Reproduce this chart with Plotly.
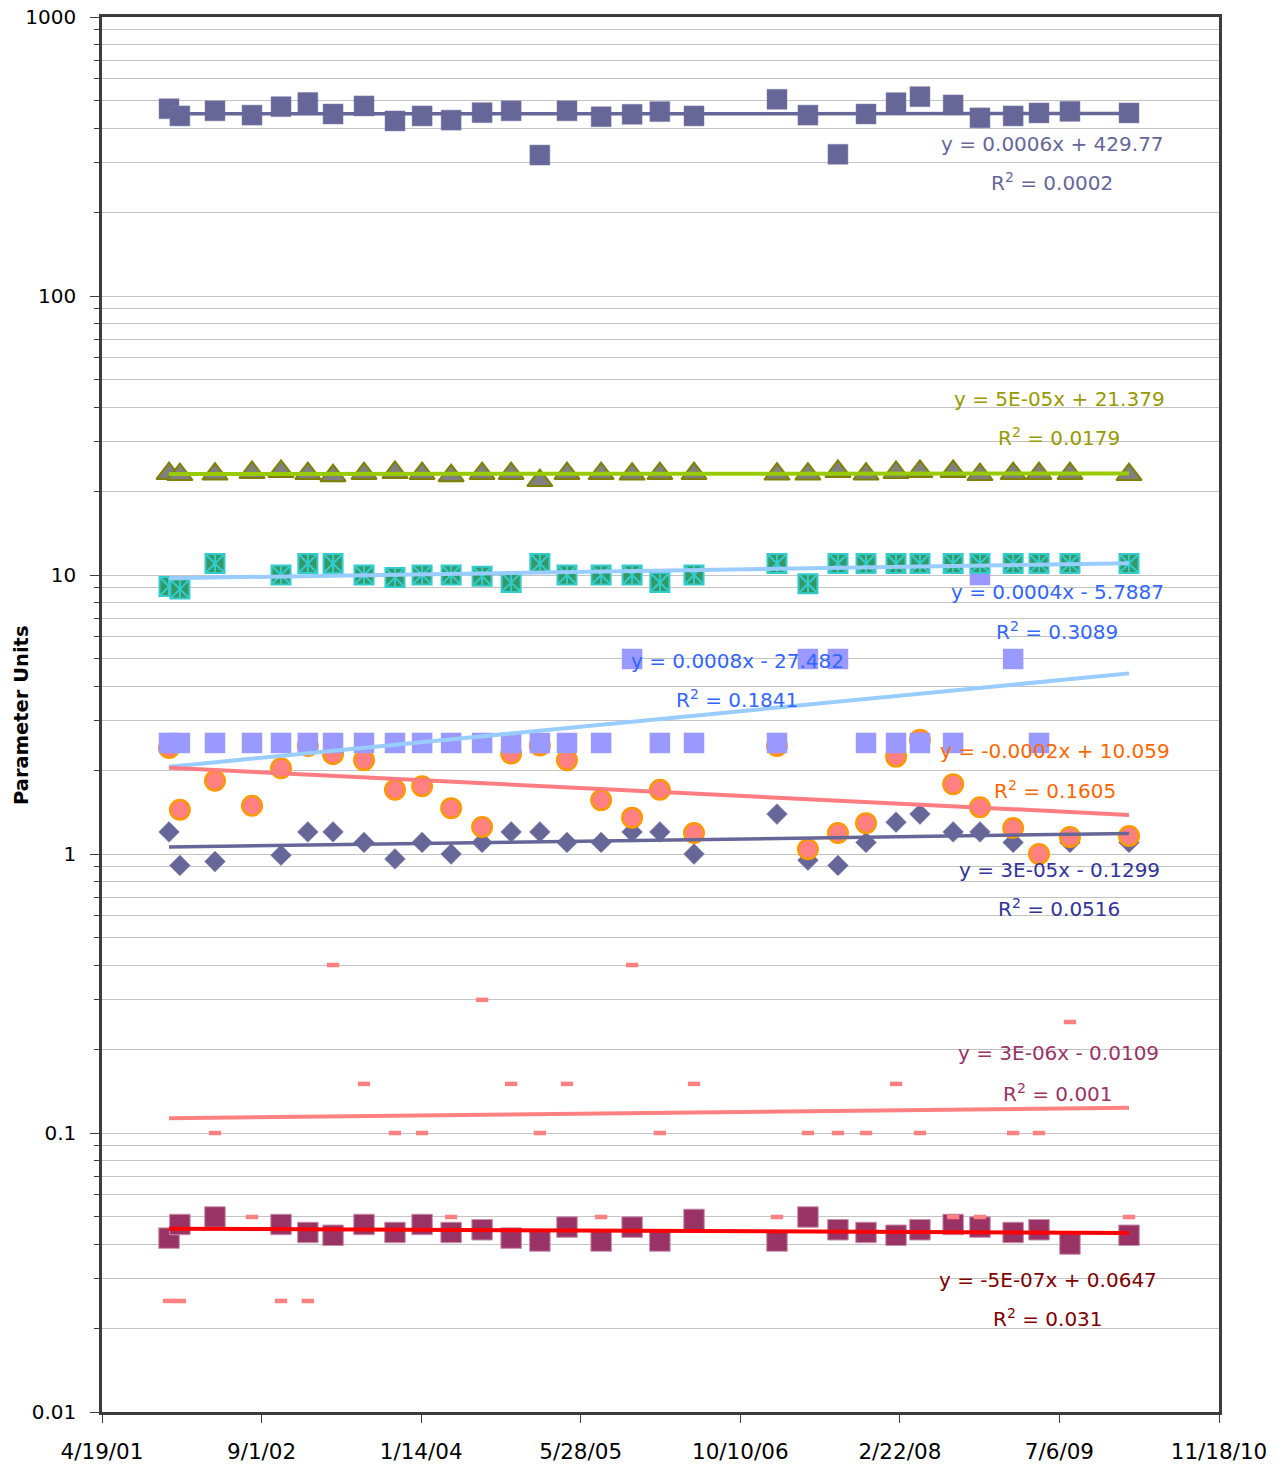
import numpy as np
import pandas as pd
import plotly.graph_objects as go

# ---------------- data (Excel date serials + series values) ----------------
sample_serial = [37210, 37244, 37354, 37470, 37561, 37645, 37724, 37821, 37918, 38003,
                 38094, 38191, 38282, 38372, 38457, 38564, 38661, 38748, 38855, 39115,
                 39212, 39306, 39394, 39488, 39563, 39667, 39751, 39855, 39936, 40033,
                 40218]

series_squares = [469, 442, 461, 445, 477, 494, 449, 480, 424, 442,
                  427, 454, 461, 320, 461, 439, 448, 458, 442, 507,
                  445, 322, 449, 493, 518, 484, 435, 442, 453, 459,
                  453]

series_triangles = [23.1, 22.9, 23.0, 23.3, 23.5, 23.1, 22.7, 23.1, 23.3, 23.1,
                    22.7, 23.1, 23.1, 21.8, 23.1, 23.1, 23.0, 23.1, 23.1, 23.0,
                    23.0, 23.5, 23.0, 23.3, 23.5, 23.5, 22.9, 23.1, 23.1, 23.1,
                    22.9]

series_star = [9.1, 8.9, 11.0, None, 10.0, 11.0, 11.0, 10.0, 9.8, 10.0,
               10.0, 9.9, 9.4, 11.0, 10.0, 10.0, 10.0, 9.4, 10.0, 11.0,
               9.3, 11.0, 11.0, 11.0, 11.0, 11.0, 11.0, 11.0, 11.0, 11.0,
               11.0]

series_lavender = [2.5, 2.5, 2.5, 2.5, 2.5, 2.5, 2.5, 2.5, 2.5, 2.5,
                   2.5, 2.5, 2.5, 2.5, 2.5, 2.5, 5.0, 2.5, 2.5, 2.5,
                   5.0, 5.0, 2.5, 2.5, 2.5, 2.5, 10.0, 5.0, 2.5, None,
                   None]

series_circles = [2.40, 1.44, 1.83, 1.49, 2.03, 2.44, 2.28, 2.17, 1.70, 1.75,
                  1.46, 1.25, 2.29, 2.45, 2.17, 1.56, 1.35, 1.70, 1.19, 2.44,
                  1.04, 1.19, 1.29, 2.23, 2.57, 1.78, 1.47, 1.24, 1.00, 1.15,
                  1.16]

series_diamonds = [1.20, 0.91, 0.94, None, 0.99, 1.20, 1.20, 1.10, 0.96, 1.10,
                   1.00, 1.10, 1.20, 1.20, 1.10, 1.10, 1.20, 1.20, 1.00, 1.39,
                   0.95, 0.91, 1.10, 1.30, 1.39, 1.20, 1.20, 1.10, None, 1.10,
                   1.10]

series_dashes = [0.025, 0.025, 0.10, 0.05, 0.025, 0.025, 0.40, 0.15, 0.10, 0.10,
                 0.05, 0.30, 0.15, 0.10, 0.15, 0.05, 0.40, 0.10, 0.15, 0.05,
                 0.10, 0.10, 0.10, 0.15, 0.10, 0.05, 0.05, 0.10, 0.10, 0.25,
                 0.05]

series_maroon = [0.042, 0.047, 0.050, None, 0.047, 0.044, 0.043, 0.047, 0.044, 0.047,
                 0.044, 0.045, 0.042, 0.041, 0.046, 0.041, 0.046, 0.041, 0.049, 0.041,
                 0.050, 0.045, 0.044, 0.043, 0.045, 0.047, 0.046, 0.044, 0.045, 0.040,
                 0.043]

y_tick_vals = [0.01, 0.1, 1, 10, 100, 1000]
y_tick_text = ["0.01", "0.1", "1", "10", "100", "1000"]

trend_labels = [
    ("y = 0.0006x + 429.77", "R<sup>2</sup> = 0.0002"),
    ("y = 5E-05x + 21.379", "R<sup>2</sup> = 0.0179"),
    ("y = 0.0004x - 5.7887", "R<sup>2</sup> = 0.3089"),
    ("y = 0.0008x - 27.482", "R<sup>2</sup> = 0.1841"),
    ("y = -0.0002x + 10.059", "R<sup>2</sup> = 0.1605"),
    ("y = 3E-05x - 0.1299", "R<sup>2</sup> = 0.0516"),
    ("y = 3E-06x - 0.0109", "R<sup>2</sup> = 0.001"),
    ("y = -5E-07x + 0.0647", "R<sup>2</sup> = 0.031"),
]

# ---------------- figure ----------------
FONT = "'DejaVu Sans', Lato, sans-serif"
serial = np.array(sample_serial, dtype=float)
dates = pd.to_datetime(serial, unit="D", origin="1899-12-30")

fig = go.Figure()


def add_markers(vals, **marker):
    fig.add_trace(go.Scatter(x=dates, y=vals, mode="markers", marker=marker,
                             hoverinfo="x+y"))


def add_trend(vals, color, width=4):
    v = np.array([np.nan if q is None else q for q in vals], dtype=float)
    ok = ~np.isnan(v)
    m, b = np.polyfit(serial[ok], v[ok], 1)
    xs = np.array([serial.min(), serial.max()])
    fig.add_trace(go.Scatter(
        x=pd.to_datetime(xs, unit="D", origin="1899-12-30"), y=m * xs + b,
        mode="lines", line=dict(color=color, width=width), hoverinfo="skip"))


# markers (drawing order matters for overlaps)
add_markers(series_squares, symbol="square", size=20, color="#666699",
            line=dict(color="#8080AA", width=0.5))
add_markers(series_triangles, symbol="triangle-up", size=22, color="#808080",
            line=dict(color="#808000", width=2))
add_markers(series_diamonds, symbol="diamond", size=16, color="#666699",
            line=dict(color="#8080AA", width=0.5))
add_markers(series_circles, symbol="circle", size=19.5, color="#FF8080",
            line=dict(color="#FF9900", width=2.5))
add_markers(series_lavender, symbol="square", size=20.5, color="#9999FF",
            line=dict(width=0))
add_markers(series_star, symbol="square-x", size=19, color="#339966",
            line=dict(color="#33CCCC", width=2))
add_markers(series_star, symbol="line-ns-open", size=14, color="#33CCCC",
            line=dict(color="#33CCCC", width=2))
add_markers(series_maroon, symbol="square", size=20.5, color="#993366",
            line=dict(color="#C890AC", width=1))
add_markers(series_dashes, symbol="line-ew", size=8.8, color="#FF8080",
            line=dict(color="#FF8080", width=4.5))

# trendlines on top
add_trend(series_squares, "#666699", 3.5)
add_trend(series_triangles, "#99CC00", 4)
add_trend(series_star, "#99CCFF", 4)
add_trend(series_lavender, "#99CCFF", 4)
add_trend(series_circles, "#FF7C80", 4)
add_trend(series_diamonds, "#666699", 3.5)
add_trend(series_dashes, "#FF8080", 4)
add_trend(series_maroon, "#FF0000", 4)

# ---------------- trendline labels ----------------
# target plot-area edges in page pixels; the page body adds an 8 px offset
OFF = 8
PL, PR, PT, PB = 102, 1219, 17, 1412
FIG_W, FIG_H = 1281 - 2 * OFF, 1467 - OFF


def paper(px, py):
    return (px - PL) / (PR - PL), (PB - py) / (PB - PT)


label_pos = [(1052, 144, 182), (1059, 399, 437), (1057, 592, 631), (737, 661, 699),
             (1055, 751, 790), (1059, 870, 908), (1058, 1053, 1093), (1048, 1280, 1318)]
label_col = ["#666699", "#999900", "#3366FF", "#3366FF",
             "#FF6600", "#333399", "#993366", "#800000"]

annotations = []
for (t1, t2), (cx, y1, y2), col in zip(trend_labels, label_pos, label_col):
    for txt, yy in ((t1, y1), (t2, y2)):
        px, py = paper(cx, yy)
        annotations.append(dict(x=px, y=py, xref="paper", yref="paper", text=txt,
                                showarrow=False, xanchor="center", yanchor="middle",
                                font=dict(family=FONT, size=20, color=col)))

tx, ty = paper(21, 715)
annotations.append(dict(x=tx, y=ty, xref="paper", yref="paper",
                        text="<b>Parameter Units</b>", textangle=-90, showarrow=False,
                        xanchor="center", yanchor="middle",
                        font=dict(family=FONT, size=19.5, color="black")))

GRID = "#C4C4C4"
AXIS = "#3C3C3C"
fig.update_layout(
    width=FIG_W, height=FIG_H,
    margin=dict(l=PL - OFF, r=FIG_W - (PR - OFF), t=PT - OFF, b=FIG_H - (PB - OFF),
                autoexpand=False),
    paper_bgcolor="white", plot_bgcolor="white",
    showlegend=False,
    font=dict(family=FONT, size=21, color="black"),
    annotations=annotations,
    xaxis=dict(
        type="date", range=["2001-04-19", "2010-11-18"], automargin=False,
        tick0="2001-04-19", dtick=500 * 86400000, tickformat="%-m/%-d/%y",
        ticks="outside", ticklen=8, tickcolor=AXIS, ticklabelstandoff=10,
        ticklabeloverflow="allow",
        showgrid=False, zeroline=False,
        showline=True, mirror=True, linecolor=AXIS, linewidth=2.5,
        tickfont=dict(family=FONT, size=21.5, color="black"),
    ),
    yaxis=dict(
        type="log", range=[-2, 3], automargin=False,
        tickvals=y_tick_vals, ticktext=y_tick_text,
        ticks="outside", ticklen=9, tickcolor=AXIS, ticklabelstandoff=10,
        ticklabeloverflow="allow",
        showgrid=True, gridcolor=GRID, gridwidth=1, zeroline=False,
        showline=True, mirror=True, linecolor=AXIS, linewidth=2.5,
        tickfont=dict(family=FONT, size=20, color="black"),
        minor=dict(dtick="D1", showgrid=True, gridcolor=GRID, gridwidth=1,
                   ticks="outside", ticklen=5, tickcolor=AXIS),
    ),
)

fig.write_html("out.html")
